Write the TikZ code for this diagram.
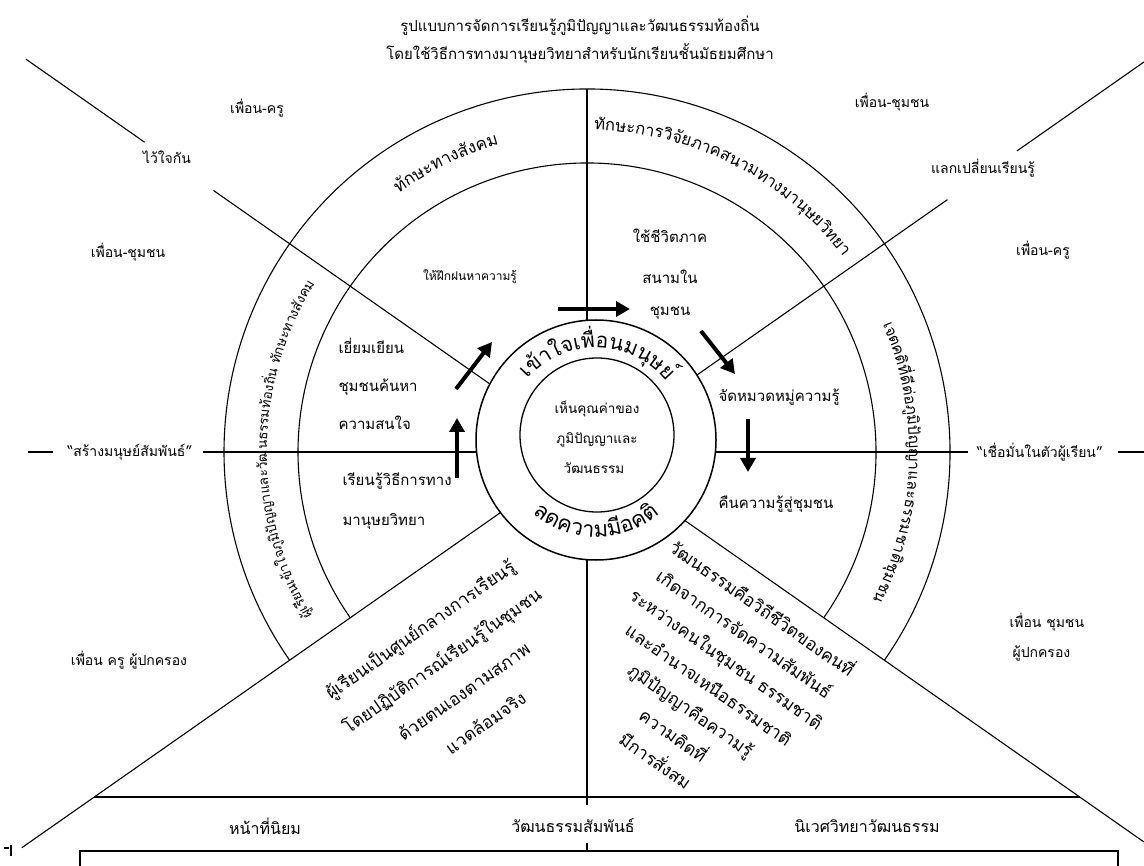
\documentclass[tikz,border=0pt]{standalone}
\usepackage{fontspec}
\newfontfamily\thaifont[Script=Thai]{Loma}
\usetikzlibrary{arrows.meta}
\usetikzlibrary{calc}
\usetikzlibrary{decorations.text}
\newcommand{\tf}[1]{\thaifont\fontsize{#1}{#1}\selectfont}

\begin{document}
\begin{tikzpicture}[x=1pt, y=1pt, line width=1.1pt,
        lbl/.style={font=\tf{14}, inner sep=1pt},
        inlbl/.style={font=\tf{15}, inner sep=1pt},
        arctxt/.style={decorate, decoration={text along path, text align=center, text={#1}}},
        fat/.style={line width=4pt, -{Triangle[width=15pt, length=14pt]}}]
    \useasboundingbox (0,0) rectangle (1144,-866);

    \coordinate (C) at (587,-452);
    \coordinate (R) at (596,-440);
    \coordinate (I) at (597,-435);

    % spokes
    \coordinate (ulEnd) at ($(C)+(145:685)$);
    \coordinate (ulOut) at ($(C)+(145:540)$);
    \coordinate (ulIn) at ($(C)+(145:456)$);
    \coordinate (urEnd) at ($(C)+(35:685)$);
    \coordinate (urOut) at ($(C)+(35:525)$);
    \coordinate (urIn) at ($(C)+(35:440)$);
    \coordinate (llEnd) at ($(C)+(215:690)$);
    \coordinate (lrEnd) at ($(C)+(-35:680)$);
    \coordinate (top) at ($(C)+(90:363)$);
    \draw (ulEnd) -- (ulOut);
    \draw (ulIn) -- (C);
    \draw (urEnd) -- (urOut);
    \draw (urIn) -- (C);
    \draw (C) -- (llEnd);
    \draw (C) -- (lrEnd);
    \draw (28,-452) -- (53,-452);
    \draw (203,-452) -- (C) -- (968,-452);
    \draw (1118,-452) -- (1144,-452);
    \draw (top) -- (C) -- (587,-805);
    \draw (587,-843) -- (587,-851);

    % circles
    \draw ($(C)+(-35:363)$) arc[start angle=-35, end angle=215, radius=363];
    \draw ($(C)+(-35:289)$) arc[start angle=-35, end angle=215, radius=289];
    \draw[line width=1.5pt, fill=white] (R) circle (120);
    \draw[line width=1.3pt] (I) circle (77);

    % bottom
    \draw[line width=2.2pt] ($(C)+(215:601.5)$) -- ($(C)+(-35:601.5)$);
    \draw (80,-866) -- (80,-851) -- (1118,-851) -- (1118,-866);
    \draw (4,-848) -- (9,-848) (11,-845) -- (11,-856);

    % arrows
    \draw[fat] (558,-309) -- (630,-309);
    \draw[fat] (701,-331) -- (735,-374);
    \draw[fat] (748,-419) -- (748,-472);
    \draw[fat] (457,-478) -- (457,-418);
    \draw[fat] (456,-389) -- (492,-342);

    % title
    \node[font=\tf{15}] (title1) at (580,-26) {รูปแบบการจัดการเรียนรู้ภูมิปัญญาและวัฒนธรรมท้องถิ่น};
    \node[font=\tf{15}] (title2) at (580,-54) {โดยใช้วิธีการทางมานุษยวิทยาสำหรับนักเรียนชั้นมัธยมศึกษา};

    % outside
    \node[lbl] (frTeachL) at (257,-108) {เพื่อน-ครู};
    \node[lbl] (trust) at (167,-157) {ไว้ใจกัน};
    \node[lbl] (frCommL) at (128,-252) {เพื่อน-ชุมชน};
    \node[lbl] (frCommR) at (892,-102) {เพื่อน-ชุมชน};
    \node[lbl] (share) at (983,-168) {แลกเปลี่ยนเรียนรู้};
    \node[lbl] (frTeachR) at (1043,-250) {เพื่อน-ครู};
    \node[lbl] (build) at (130,-452) {“สร้างมนุษย์สัมพันธ์”};
    \node[lbl] (believe) at (1040,-452) {“เชื่อมั่นในตัวผู้เรียน”};
    \node[lbl] (frParL) at (129,-660) {เพื่อน ครู ผู้ปกครอง};
    \node[lbl, anchor=west] (frParR1) at (1008,-622) {เพื่อน ชุมชน};
    \node[lbl, anchor=west] (frParR2) at (1011,-653) {ผู้ปกครอง};

    % inside the wheel
    \node[inlbl, font=\tf{12}] (practice) at (470,-277) {ให้ฝึกฝนหาความรู้};
    \node[inlbl] (field1) at (670,-236) {ใช้ชีวิตภาค};
    \node[inlbl] (field2) at (670,-277) {สนามใน};
    \node[inlbl] (field3) at (670,-313) {ชุมชน};
    \node[inlbl, anchor=west] (visit1) at (337,-346) {เยี่ยมเยียน};
    \node[inlbl, anchor=west] (visit2) at (337,-387) {ชุมชนค้นหา};
    \node[inlbl, anchor=west] (visit3) at (337,-423) {ความสนใจ};
    \node[inlbl, anchor=west] (method1) at (341,-481) {เรียนรู้วิธีการทาง};
    \node[inlbl, anchor=west] (method2) at (341,-521) {มานุษยวิทยา};
    \node[inlbl, anchor=west] (sort) at (717,-397) {จัดหมวดหมู่ความรู้};
    \node[inlbl, anchor=west] (giveback) at (717,-504) {คืนความรู้สู่ชุมชน};

    \node[font=\tf{13.5}] (value1) at (597,-409) {เห็นคุณค่าของ};
    \node[font=\tf{13.5}] (value2) at (597,-440) {ภูมิปัญญาและ};
    \node[font=\tf{13.5}] (value3) at (594,-468) {วัฒนธรรม};

    % ring words
    \path[arctxt={|\tf{21}|{เ}{ข้}{า}{ใ}{จ}{เ}{พื่}{อ}{น}{ม}{นุ}{ษ}{ย์}}]
        ($(R)+(150:92)$) arc[start angle=150, end angle=28, radius=92];
    \path[arctxt={|\tf{22}|{ล}{ด}{ค}{ว}{า}{ม}{มี}{อ}{ค}{ติ}}]
        ($(R)+(224:97)$) arc[start angle=224, end angle=316, radius=97];

    % band words
    \path[arctxt={|\tf{17}|{ทัก}{ษะ}{ทาง}{สัง}{คม}}]
        ($(C)+(129:320)$) arc[start angle=129, end angle=103, radius=320];
    \path[arctxt={|\tf{16.5}|{ทัก}{ษะ}{การ}{วิ}{จัย}{ภาค}{สนาม}{ทาง}{มา}{นุษย}{วิท}{ยา}}]
        ($(C)+(89:322)$) arc[start angle=89, end angle=37, radius=322];
    \path[arctxt={|\tf{13.5}|{ผู้}{เรียน}{เข้า}{ใจ}{ภูมิ}{ปัญ}{ญา}{และ}{วัฒ}{น}{ธรรม}{ท้อง}{ถิ่น} {ทัก}{ษะ}{ทาง}{สัง}{คม}}]
        ($(C)+(213:320)$) arc[start angle=213, end angle=146, radius=320];
    \path[arctxt={|\tf{15.5}|{เจต}{คติ}{ที่}{ดี}{ต่อ}{ภูมิ}{ปัญ}{ญา}{และ}{ธรรม}{ชาติ}{ชุม}{ชน}}]
        ($(C)+(27:322)$) arc[start angle=27, end angle=-31, radius=322];

    % lower sectors
    \node[font=\thaifont\fontsize{17.5}{38}\selectfont, align=center, rotate=35] (learner) at (452,-675)
        {ผู้เรียนเป็นศูนย์กลางการเรียนรู้\\โดยปฏิบัติการณ์เรียนรู้ในชุมชน\\ด้วยตนเองตามสภาพ\\แวดล้อมจริง};
    \node[font=\thaifont\fontsize{17.5}{31}\selectfont, align=center, rotate=-35] (culture) at (710,-683)
        {วัฒนธรรมคือวิถีชีวิตของคนที่\\เกิดจากการจัดความสัมพันธ์\\ระหว่างคนในชุมชน ธรรมชาติ\\และอำนาจเหนือธรรมชาติ\\ภูมิปัญญาคือความรู้\\ความคิดที่\\มีการสั่งสม};

    % base row
    \node[font=\tf{16}] (func) at (265,-826) {หน้าที่นิยม};
    \node[font=\tf{16}] (relat) at (573,-826) {วัฒนธรรมสัมพันธ์};
    \node[font=\tf{16}] (ecol) at (867,-826) {นิเวศวิทยาวัฒนธรรม};
\end{tikzpicture}
\end{document}
